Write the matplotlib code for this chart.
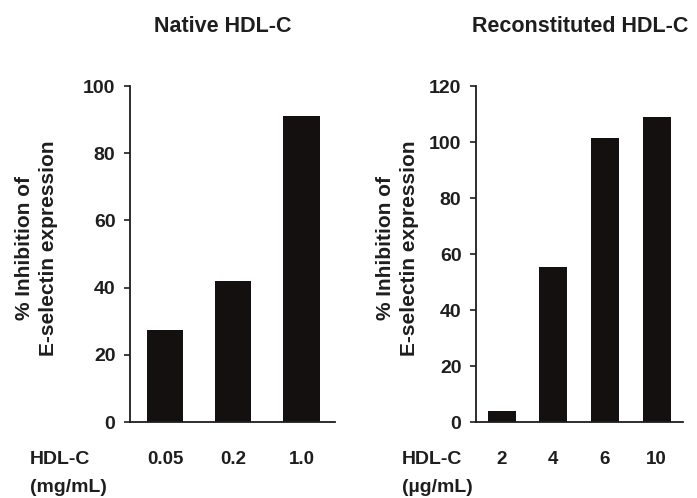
import matplotlib
matplotlib.use("Agg")
import matplotlib.pyplot as plt

plt.rcParams['font.family'] = ['Liberation Sans', 'DejaVu Sans']
plt.rcParams['font.weight'] = 'bold'

native_doses = ["0.05", "0.2", "1.0"]
native_vals = [27.5, 42, 91]
recon_doses = ["2", "4", "6", "10"]
recon_vals = [4, 55.5, 101.5, 109]

txt = "#1e1e1e"
bar_col = "#141010"
W, H = 697, 498

fig = plt.figure(figsize=(6.97, 4.98), dpi=100)
ax1 = fig.add_axes([130/W, 1-422/H, 205/W, 336/H])
ax2 = fig.add_axes([476/W, 1-422/H, 207/W, 336/H])

# ax, doses, values, ymax, bar width, title, title centre x, unit, xlim, ylabel x, label left x
panels = [
    (ax1, native_doses, native_vals, 100, 0.53, "Native HDL-C", 223, "(mg/mL)", (-0.515, 2.49), -0.35, 30),
    (ax2, recon_doses, recon_vals, 120, 0.54, "Reconstituted HDL-C", 580, "(\u00b5g/mL)", (-0.5, 3.51), -0.275, 402),
]

for ax, doses, vals, ymax, w, title, tx, unit, xlim, ylx, lx in panels:
    x = range(len(doses))
    ax.bar(x, vals, width=w, color=bar_col)
    ax.set_ylim(0, ymax)
    ax.set_xlim(*xlim)
    ax.set_yticks(range(0, ymax + 1, 20))
    ax.set_xticks(list(x))
    ax.set_xticklabels(doses)
    ax.tick_params(axis='x', length=0, pad=21, labelsize=13.5, colors=txt)
    ax.tick_params(axis='y', length=4.5, width=1.2, pad=6, labelsize=14, colors=txt)
    for s in ["top", "right"]:
        ax.spines[s].set_visible(False)
    for s in ["left", "bottom"]:
        ax.spines[s].set_linewidth(1.3)
        ax.spines[s].set_color(txt)
    ax.set_ylabel("% Inhibition of\nE-selectin expression", fontsize=15, color=txt,
                  fontweight='bold', linespacing=1.35)
    ax.yaxis.set_label_coords(ylx, 0.518)
    fig.text(tx/W, 1-27/H, title, fontsize=15.5, fontweight='bold', color=txt,
             ha='center', va='center')
    fig.text(lx/W, 1-459/H, "HDL-C", fontsize=14, fontweight='bold', color=txt,
             ha='left', va='center')
    fig.text(lx/W, 1-487/H, unit, fontsize=14, fontweight='bold', color=txt,
             ha='left', va='center')

fig.savefig("out.png", dpi=100)
